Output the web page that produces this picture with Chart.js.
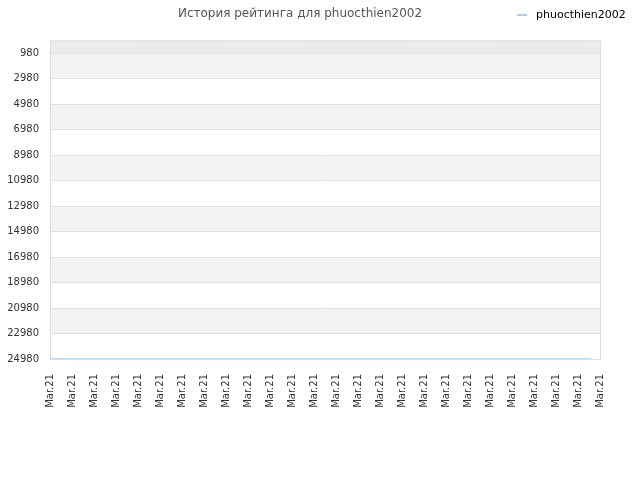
<!DOCTYPE html>
<html>
<head>
<meta charset="utf-8">
<script src="https://cdn.jsdelivr.net/npm/chart.js@4/dist/chart.umd.min.js"></script>
<style>
  body { margin: 0; background: #fff; }
  #wrap { position: relative; width: 640px; height: 480px; }
  #legend { position: absolute; left: 517px; top: 8px; font: 11px "DejaVu Sans"; color: #000; }
  #legend span.swatch { display: inline-block; width: 10px; height: 2px; background: #a8cdf0; vertical-align: middle; margin-right: 9px; }
</style>
</head>
<body>
<div id="wrap">
  <canvas id="myChart" width="640" height="480"></canvas>
  <div id="legend"><span class="swatch"></span>phuocthien2002</div>
</div>
<script>
const playerName = 'phuocthien2002';
const xTickLabels = ['Mar.21', 'Mar.21', 'Mar.21', 'Mar.21', 'Mar.21', 'Mar.21', 'Mar.21', 'Mar.21', 'Mar.21',
  'Mar.21', 'Mar.21', 'Mar.21', 'Mar.21', 'Mar.21', 'Mar.21', 'Mar.21', 'Mar.21', 'Mar.21', 'Mar.21',
  'Mar.21', 'Mar.21', 'Mar.21', 'Mar.21', 'Mar.21', 'Mar.21', 'Mar.21'];
const yTickValues = [980, 2980, 4980, 6980, 8980, 10980, 12980, 14980, 16980, 18980, 20980, 22980, 24980];
const pointPos = [0, 6, 12, 18, 24.6];
const ratingValues = [24980, 24980, 24980, 24980, 24980];

// alternating bands + frame around the plot
const bandsPlugin = {
  id: 'bands',
  beforeDraw(chart) {
    const { ctx, chartArea: a, scales: { y } } = chart;
    ctx.save();
    ctx.fillStyle = '#ececec';
    ctx.fillRect(a.left, a.top, a.right - a.left, y.getPixelForValue(yTickValues[0]) - a.top);
    for (let i = 0; i < yTickValues.length - 1; i++) {
      const t = y.getPixelForValue(yTickValues[i]);
      const b = y.getPixelForValue(yTickValues[i + 1]);
      ctx.fillStyle = i % 2 === 0 ? '#f3f3f3' : '#ffffff';
      ctx.fillRect(a.left, t, a.right - a.left, b - t);
    }
    ctx.restore();
  },
  afterDraw(chart) {
    const { ctx, chartArea: a } = chart;
    ctx.save();
    ctx.strokeStyle = '#dddddd';
    ctx.lineWidth = 1;
    ctx.beginPath();
    ctx.moveTo(a.left + 0.5, a.top + 0.5);
    ctx.lineTo(a.right + 0.5, a.top + 0.5);
    ctx.lineTo(a.right + 0.5, a.bottom);
    ctx.stroke();
    ctx.restore();
  }
};

new Chart(document.getElementById('myChart'), {
  type: 'line',
  data: {
    datasets: [{
      label: playerName,
      data: pointPos.map((x, i) => ({ x: x, y: ratingValues[i] })),
      borderColor: '#a8cdf0',
      borderWidth: 1.5,
      pointRadius: 0,
      fill: false
    }]
  },
  options: {
    responsive: false,
    animation: false,
    layout: { padding: { left: 0, right: 40, top: 0, bottom: 0 } },
    plugins: {
      legend: { display: false },
      tooltip: { enabled: false },
      title: {
        display: true,
        text: 'История рейтинга для ' + playerName,
        color: '#555555',
        font: { family: 'DejaVu Sans', size: 12, weight: 'normal' },
        padding: { top: 7, bottom: 19 }
      }
    },
    scales: {
      x: {
        type: 'linear',
        min: 0,
        max: xTickLabels.length - 1,
        afterBuildTicks: s => { s.ticks = xTickLabels.map((_, i) => ({ value: i })); },
        afterFit: s => { s.height = 121; },
        grid: { display: false },
        border: { color: '#dddddd' },
        ticks: {
          autoSkip: false,
          minRotation: 90,
          maxRotation: 90,
          padding: 7,
          color: '#333333',
          font: { family: 'DejaVu Sans', size: 10 },
          callback: (v, i) => xTickLabels[i]
        }
      },
      y: {
        reverse: true,
        min: -40,
        max: 24980,
        afterBuildTicks: s => { s.ticks = yTickValues.map(v => ({ value: v })); },
        afterFit: s => { s.width = 50; },
        grid: { color: '#e0e0e0', drawTicks: false },
        border: { color: '#dddddd' },
        ticks: {
          padding: 11,
          color: '#333333',
          font: { family: 'DejaVu Sans', size: 10 },
          callback: v => String(v)
        }
      }
    }
  },
  plugins: [bandsPlugin]
});
</script>
</body>
</html>
